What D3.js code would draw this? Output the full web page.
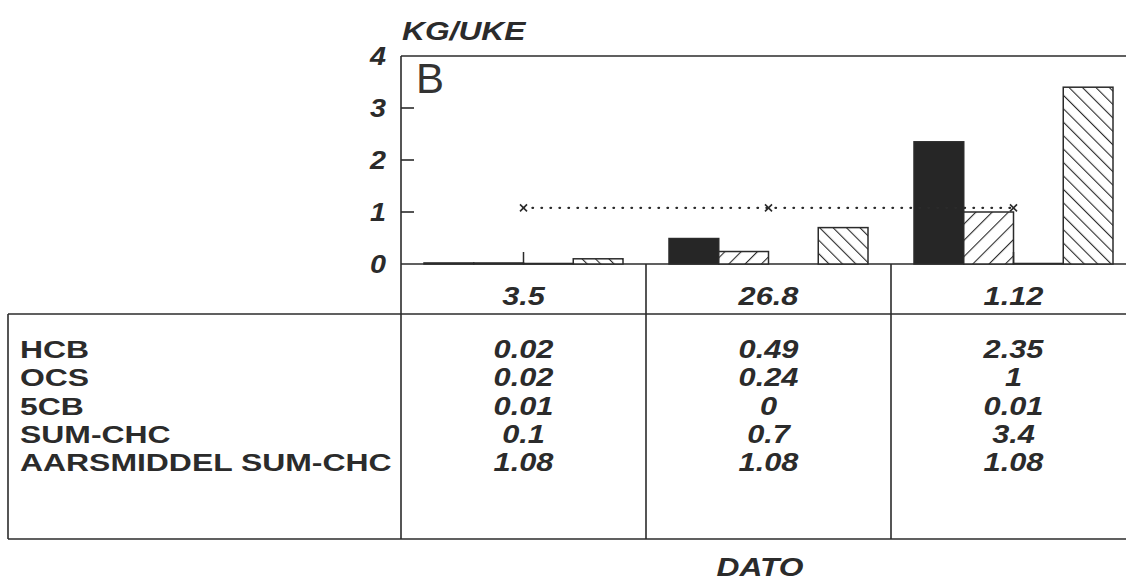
<!DOCTYPE html>
<html>
<head>
<meta charset="utf-8">
<script src="https://cdn.jsdelivr.net/npm/d3@7/dist/d3.min.js"></script>
<style>
  html, body { margin: 0; padding: 0; background: #fff; }
  svg { display: block; }
  text { font-family: "Liberation Sans", Arial, sans-serif; }
</style>
</head>
<body>
<svg id="chart" width="1126" height="580"></svg>
<script>
// ---------- data ----------
const dates = ["3.5", "26.8", "1.12"];
const seriesNames = ["HCB", "OCS", "5CB", "SUM-CHC", "AARSMIDDEL SUM-CHC"];
const hcb = [0.02, 0.49, 2.35];
const ocs = [0.02, 0.24, 1];
const cb5 = [0.01, 0, 0.01];
const sumChc = [0.1, 0.7, 3.4];
const aarsmiddel = [1.08, 1.08, 1.08];
const yTicks = [0, 1, 2, 3, 4];
const yTitle = "KG/UKE";
const xTitle = "DATO";
const panelLabel = "B";

const rows = [hcb, ocs, cb5, sumChc, aarsmiddel];
const barSeries = [
  { name: "HCB", values: hcb, fill: "#262626" },
  { name: "OCS", values: ocs, fill: "url(#hatchFwd)" },
  { name: "5CB", values: cb5, fill: "#fff" },
  { name: "SUM-CHC", values: sumChc, fill: "url(#hatchBack)" }
];

// ---------- layout ----------
const svg = d3.select("#chart");
const ink = "#2b2b2b";
const axisX = 401, rightX = 1126;
const tableLeft = 8, headerBottom = 314, tableBottom = 539;
const colW = 245;

const y = d3.scaleLinear().domain([0, 4]).range([264, 56]);
const x0 = d3.scaleBand().domain(dates).range([axisX, axisX + colW * dates.length]).padding(0);
const x1 = d3.scaleBand().domain(barSeries.map(d => d.name)).range([23, 222]).padding(0);
const rowY = d3.scalePoint().domain(seriesNames).range([349, 462]);

// patterns
const defs = svg.append("defs");
function hatch(id, angle, gap) {
  const p = defs.append("pattern").attr("id", id)
    .attr("patternUnits", "userSpaceOnUse")
    .attr("width", gap).attr("height", gap)
    .attr("patternTransform", `rotate(${angle})`);
  p.append("rect").attr("width", gap).attr("height", gap).attr("fill", "#fff");
  p.append("line").attr("x1", 0).attr("y1", 0).attr("x2", 0).attr("y2", gap)
    .attr("stroke", ink).attr("stroke-width", 2.2);
}
hatch("hatchFwd", 45, 11.5);
hatch("hatchBack", -45, 9.5);

// ---------- frame lines ----------
const lines = svg.append("g").attr("stroke", ink).attr("stroke-width", 1.6).attr("fill", "none");
lines.append("line").attr("x1", axisX).attr("x2", rightX).attr("y1", y(4)).attr("y2", y(4));
lines.append("line").attr("x1", axisX).attr("x2", axisX).attr("y1", y(4)).attr("y2", tableBottom);
lines.append("line").attr("x1", axisX).attr("x2", rightX).attr("y1", y(0)).attr("y2", y(0));
dates.slice(1).forEach(d => {
  lines.append("line").attr("x1", x0(d)).attr("x2", x0(d)).attr("y1", y(0)).attr("y2", tableBottom);
});
lines.append("line").attr("x1", tableLeft).attr("x2", rightX).attr("y1", headerBottom).attr("y2", headerBottom);
lines.append("line").attr("x1", tableLeft).attr("x2", rightX).attr("y1", tableBottom).attr("y2", tableBottom);
lines.append("line").attr("x1", tableLeft).attr("x2", tableLeft).attr("y1", headerBottom).attr("y2", tableBottom);

yTicks.filter(t => t > 0 && t < 4).forEach(t => {
  lines.append("line").attr("x1", axisX).attr("x2", axisX + 13).attr("y1", y(t)).attr("y2", y(t));
});

function label(g, txt, x, yy, opts) {
  const o = Object.assign({ size: 25, sx: 1.23, anchor: "middle", weight: "bold", style: "italic", fill: ink }, opts || {});
  return g.append("text")
    .attr("transform", `translate(${x},${yy}) scale(${o.sx},1)`)
    .attr("text-anchor", o.anchor)
    .attr("font-size", o.size)
    .attr("font-weight", o.weight)
    .attr("font-style", o.style)
    .attr("fill", o.fill)
    .text(txt);
}

const tg = svg.append("g");
yTicks.forEach(t => label(tg, String(t), 386, y(t) + 9, { anchor: "end", sx: 1.15 }));
label(tg, yTitle, 402, 40, { anchor: "start", sx: 1.27, size: 25 });
label(tg, xTitle, 760, 576, { sx: 1.27, size: 25 });
label(tg, panelLabel, 416, 93, { anchor: "start", weight: "normal", style: "normal", size: 42, sx: 1.0, fill: "#333" });

// ---------- bars ----------
const barsG = svg.append("g");
barSeries.forEach(s => {
  barsG.selectAll(null).data(dates.map((d, i) => ({ d, v: s.values[i] })))
    .join("rect")
    .attr("x", e => x0(e.d) + x1(s.name))
    .attr("width", x1.bandwidth())
    .attr("y", e => y(e.v))
    .attr("height", e => Math.max(0, y(0) - y(e.v)))
    .attr("fill", s.fill)
    .attr("stroke", e => e.v > 0 ? ink : "none")
    .attr("stroke-width", 1.5);
});

dates.forEach((d, i) => {
  if (cb5[i] > 0) {
    const cx = x0(d) + x0.bandwidth() / 2;
    barsG.append("line").attr("x1", cx).attr("x2", cx).attr("y1", y(0)).attr("y2", y(0) - 12)
      .attr("stroke", ink).attr("stroke-width", 1.5);
  }
});

// ---------- yearly average line ----------
const avgPts = dates.map((d, i) => [x0(d) + x0.bandwidth() / 2, y(aarsmiddel[i])]);
svg.append("path")
  .attr("d", d3.line()(avgPts))
  .attr("fill", "none").attr("stroke", ink).attr("stroke-width", 2.4)
  .attr("stroke-dasharray", "0.5,8.5").attr("stroke-linecap", "round");
avgPts.forEach(p => {
  const s = 3.5;
  svg.append("path")
    .attr("d", `M${p[0]-s},${p[1]-s}L${p[0]+s},${p[1]+s}M${p[0]-s},${p[1]+s}L${p[0]+s},${p[1]-s}`)
    .attr("stroke", ink).attr("stroke-width", 1.6).attr("fill", "none");
});

// ---------- table ----------
dates.forEach(d => label(tg, d, x0(d) + x0.bandwidth() / 2, 305));
seriesNames.forEach(n => label(tg, n, 20, rowY(n) + 9, { anchor: "start", style: "normal", sx: 1.33, size: 24 }));
rows.forEach((vals, r) => {
  vals.forEach((v, i) => {
    label(tg, String(v), x0(dates[i]) + x0.bandwidth() / 2, rowY(seriesNames[r]) + 9);
  });
});
</script>
</body>
</html>
